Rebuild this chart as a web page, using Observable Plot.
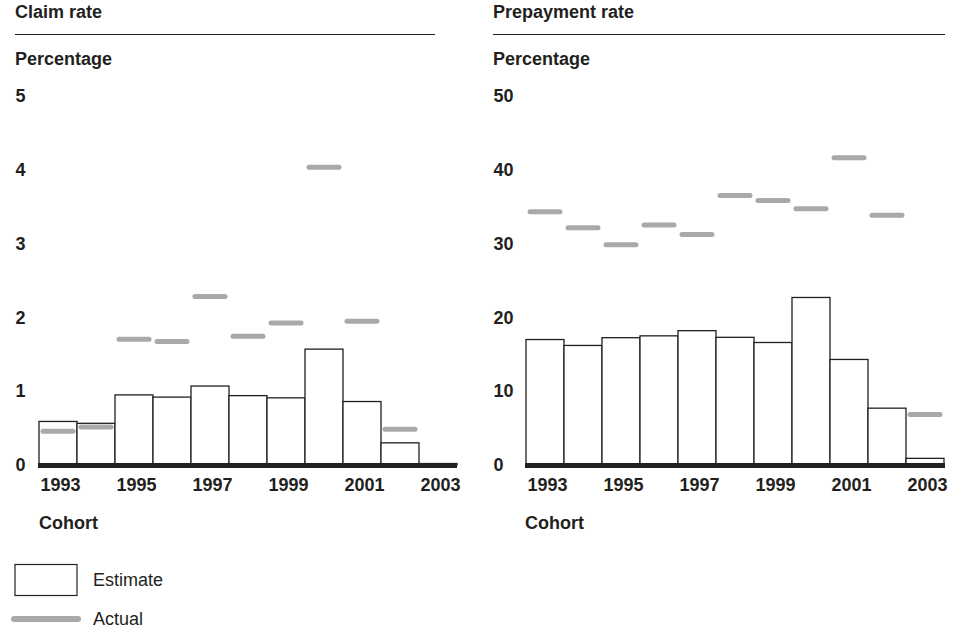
<!DOCTYPE html>
<html>
<head>
<meta charset="utf-8">
<script src="https://cdn.jsdelivr.net/npm/d3@7"></script>
<script src="https://cdn.jsdelivr.net/npm/@observablehq/plot@0.6"></script>
<style>
  html, body { margin: 0; padding: 0; background: #fff; }
  body { width: 961px; height: 628px; position: relative; overflow: hidden;
         font-family: "Liberation Sans", Arial, Helvetica, sans-serif; color: #231f20; }
  .abs { position: absolute; white-space: nowrap; line-height: 20px; }
  .b { font-weight: bold; font-size: 18px; }
  .rule { position: absolute; height: 0; border-top: 1px solid #231f20; }
  .chart { position: absolute; }
</style>
</head>
<body>
<div class="abs b" style="left:15px; top:2px;">Claim rate</div>
<div class="rule" style="left:15px; top:34px; width:420px;"></div>
<div class="abs b" style="left:15px; top:49px;">Percentage</div>

<div class="abs b" style="left:493px; top:2px;">Prepayment rate</div>
<div class="rule" style="left:493px; top:34px; width:452px;"></div>
<div class="abs b" style="left:493px; top:49px;">Percentage</div>

<div id="left" class="chart" style="left:0px; top:80px;"></div>
<div id="right" class="chart" style="left:480px; top:80px;"></div>

<div class="abs b" style="left:39px; top:513px;">Cohort</div>
<div class="abs b" style="left:525px; top:513px;">Cohort</div>

<svg class="abs" style="left:0; top:555px;" width="90" height="73">
  <rect x="15" y="9.5" width="62" height="31" fill="#fff" stroke="#231f20" stroke-width="1.2"></rect>
  <line x1="14" x2="78" y1="64" y2="64" stroke="#a9a9ac" stroke-width="6" stroke-linecap="round"></line>
</svg>
<div class="abs" style="left:93px; top:571px; font-size:18px; line-height:18px;">Estimate</div>
<div class="abs" style="left:93px; top:610px; font-size:18px; line-height:18px;">Actual</div>

<script>
const years = [1993, 1994, 1995, 1996, 1997, 1998, 1999, 2000, 2001, 2002, 2003];
const yearLabels = [1993, 1995, 1997, 1999, 2001, 2003];

const claimEstimate = [0.59, 0.565, 0.95, 0.92, 1.07, 0.94, 0.91, 1.57, 0.86, 0.30, 0.02];
const claimActual   = [0.465, 0.52, 1.71, 1.68, 2.29, 1.75, 1.93, 4.04, 1.955, 0.49, null];
const claimTicks = [0, 1, 2, 3, 4, 5];

const prepayEstimate = [17.0, 16.2, 17.25, 17.5, 18.2, 17.3, 16.6, 22.7, 14.3, 7.7, 0.9];
const prepayActual   = [34.4, 32.2, 29.9, 32.6, 31.3, 36.6, 35.9, 34.8, 41.7, 33.9, 6.9];
const prepayTicks = [0, 10, 20, 30, 40, 50];

function panel(est, act, ticks, ymax, width, mLeft, mRight, labelDx) {
  const rows = years.map((y, i) => ({year: y, estimate: est[i], actual: act[i]}));
  const actualRows = rows.filter(d => d.actual != null);
  return Plot.plot({
    width: width,
    height: 425,
    marginTop: 16,
    marginBottom: 40,
    marginLeft: mLeft,
    marginRight: mRight,
    style: {fontFamily: "'Liberation Sans', Arial, Helvetica, sans-serif", fontSize: "18px", fontWeight: "bold", color: "#231f20", background: "transparent", overflow: "visible"},
    x: {type: "band", domain: years, padding: 0, axis: null},
    y: {domain: [0, ymax], axis: null},
    marks: [
      Plot.barY(rows, {x: "year", y: "estimate", fill: "#fff", stroke: "#231f20", strokeWidth: 1.3}),
      Plot.tickY(actualRows, {x: "year", y: "actual", stroke: "#a9a9ac", strokeWidth: 5, strokeLinecap: "round", inset: 4}),
      Plot.ruleY([0], {stroke: "#231f20", strokeWidth: 5}),
      Plot.text(ticks, {y: d => d, text: d => String(d), frameAnchor: "left", textAnchor: "start", dx: labelDx, fill: "#231f20"}),
      Plot.text(yearLabels, {x: d => d, text: d => String(d), frameAnchor: "bottom", dy: 25, dx: 2, fill: "#231f20"})
    ]
  });
}

document.getElementById("left").append(panel(claimEstimate, claimActual, claimTicks, 5, 480, 38, 23, -23));
document.getElementById("right").append(panel(prepayEstimate, prepayActual, prepayTicks, 50, 481, 45, 16, -32));
</script>
</body>
</html>
